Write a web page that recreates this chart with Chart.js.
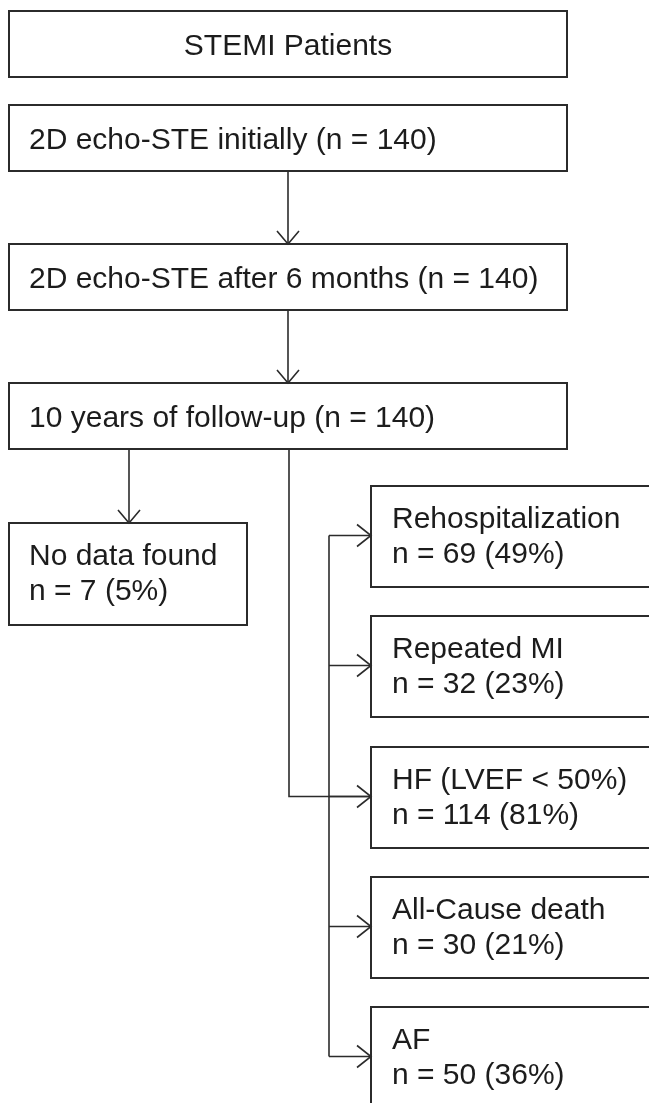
<!DOCTYPE html>
<html>
<head>
<meta charset="utf-8">
<script src="https://cdn.jsdelivr.net/npm/chart.js@4/dist/chart.umd.min.js"></script>
<style>
  html, body { margin: 0; padding: 0; background: #fff; overflow: hidden; }
  #wrap { width: 649px; height: 1103px; position: relative; }
</style>
</head>
<body>
<div id="wrap"><canvas id="flow"></canvas></div>
<script>
// flowchart content
const titleLabel = 'STEMI Patients';
const stepLabels = ['2D echo-STE initially', '2D echo-STE after 6 months', '10 years of follow-up'];
const stepCounts = [140, 140, 140];
const outcomeLabels = ['Rehospitalization', 'Repeated MI', 'HF (LVEF < 50%)', 'All-Cause death', 'AF'];
const outcomeCounts = [69, 32, 114, 30, 50];
const outcomePercents = [49, 23, 81, 21, 36];
const missingLabel = 'No data found';
const missingCount = 7;
const missingPercent = 5;

// layout, in canvas units (scale 0..649 x 0..1103)
const LAYOUT = {
    mainLeft: 9,
    mainRight: 567,
    mainTops: [11, 105, 244, 383],
    mainHeight: 66,
    spineX: 288,
    missing: { left: 9, right: 247, top: 523, bottom: 625, arrowX: 129 },
    outcomeLeft: 371,
    outcomeRight: 660,
    outcomeTops: [486, 616, 747, 877, 1007],
    outcomeHeight: 101,
    branchX: 329,
    trunkX: 289,
    textX: 29,
    outcomeTextX: 392,
};

const INK = '#1c1c1c';
const LINE = '#2b2b2b';
const FONT = '30px "Liberation Sans", Arial, sans-serif';

const flowPlugin = {
    id: 'flow',
    afterDraw(chart) {
        const { ctx } = chart;
        const sx = chart.scales.x;
        const sy = chart.scales.y;
        const X = (v) => sx.getPixelForValue(v);
        const Y = (v) => sy.getPixelForValue(v);

        const box = (l, t, r, b) => {
            ctx.save();
            ctx.strokeStyle = LINE;
            ctx.lineWidth = 2;
            ctx.strokeRect(X(l), Y(t), X(r) - X(l), Y(b) - Y(t));
            ctx.restore();
        };
        const line = (pts) => {
            ctx.save();
            ctx.strokeStyle = LINE;
            ctx.lineWidth = 1.6;
            ctx.beginPath();
            pts.forEach(([x, y], i) => (i ? ctx.lineTo(X(x), Y(y)) : ctx.moveTo(X(x), Y(y))));
            ctx.stroke();
            ctx.restore();
        };
        const headDown = (x, y) => line([[x - 11, y - 13], [x, y], [x + 11, y - 13]]);
        const headRight = (x, y) => line([[x - 14, y - 11], [x, y], [x - 14, y + 11]]);
        const text = (str, x, y, align) => {
            ctx.save();
            ctx.fillStyle = INK;
            ctx.font = FONT;
            ctx.textAlign = align || 'left';
            ctx.textBaseline = 'alphabetic';
            ctx.fillText(str, X(x), Y(y));
            ctx.restore();
        };

        // main column
        const L = LAYOUT;
        const mainText = [titleLabel].concat(stepLabels.map((s, i) => `${s} (n = ${stepCounts[i]})`));
        L.mainTops.forEach((top, i) => {
            const bottom = top + L.mainHeight;
            box(L.mainLeft, top, L.mainRight, bottom);
            const baseline = top + 44;
            if (i === 0) {
                text(mainText[i], (L.mainLeft + L.mainRight) / 2, baseline, 'center');
            } else {
                text(mainText[i], L.textX, baseline);
            }
            if (i >= 2) {
                const prevBottom = L.mainTops[i - 1] + L.mainHeight;
                line([[L.spineX, prevBottom], [L.spineX, top]]);
                headDown(L.spineX, top);
            }
        });

        const lastBottom = L.mainTops[L.mainTops.length - 1] + L.mainHeight;

        // missing data branch
        const m = L.missing;
        line([[m.arrowX, lastBottom], [m.arrowX, m.top]]);
        headDown(m.arrowX, m.top);
        box(m.left, m.top, m.right, m.bottom);
        text(missingLabel, L.textX, m.top + 42);
        text(`n = ${missingCount} (${missingPercent}%)`, L.textX, m.top + 77);

        // outcomes
        const mids = L.outcomeTops.map((t) => t + L.outcomeHeight / 2 - 1);
        line([[L.branchX, mids[0]], [L.branchX, mids[mids.length - 1]]]);
        outcomeLabels.forEach((label, i) => {
            const top = L.outcomeTops[i];
            box(L.outcomeLeft, top, L.outcomeRight, top + L.outcomeHeight);
            line([[L.branchX, mids[i]], [L.outcomeLeft, mids[i]]]);
            headRight(L.outcomeLeft, mids[i]);
            text(label, L.outcomeTextX, top + 42);
            text(`n = ${outcomeCounts[i]} (${outcomePercents[i]}%)`, L.outcomeTextX, top + 77);
        });

        // trunk from follow-up box into the HF row
        const hfRow = mids[2];
        line([[L.trunkX, lastBottom], [L.trunkX, hfRow], [L.outcomeLeft, hfRow]]);
    },
};

new Chart(document.getElementById('flow'), {
    type: 'scatter',
    data: { datasets: [{ data: [], pointRadius: 0 }] },
    options: {
        responsive: true,
        maintainAspectRatio: false,
        animation: false,
        layout: { padding: 0 },
        plugins: { legend: { display: false }, tooltip: { enabled: false } },
        scales: {
            x: { type: 'linear', min: 0, max: 649, display: false },
            y: { type: 'linear', min: 0, max: 1103, reverse: true, display: false },
        },
    },
    plugins: [flowPlugin],
});
</script>
</body>
</html>
